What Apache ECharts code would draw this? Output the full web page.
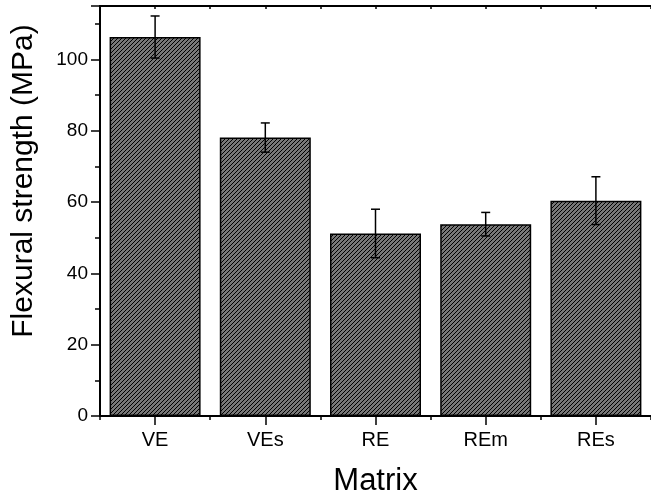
<!DOCTYPE html>
<html>
<head>
<meta charset="utf-8">
<script src="https://cdn.jsdelivr.net/npm/echarts@6/dist/echarts.min.js"></script>
<style>
html,body{margin:0;padding:0;background:#fff;overflow:hidden;width:651px;height:502px;}
#chart{width:651px;height:502px;overflow:hidden;}
</style>
</head>
<body>
<div id="chart"></div>
<script>
var categories = ['VE', 'VEs', 'RE', 'REm', 'REs'];
var strength = [106.3, 78.1, 51.2, 53.8, 60.4];
var stdev = [5.9, 4.1, 6.8, 3.3, 6.7];
var yTicks = [0, 20, 40, 60, 80, 100];
var xTitle = 'Matrix';
var yTitle = 'Flexural strength (MPa)';

// hatch pattern
var pc = document.createElement('canvas');
pc.width = 4; pc.height = 4;
var pctx = pc.getContext('2d');
var img = pctx.createImageData(4, 4);
for (var py = 0; py < 4; py++) {
  for (var px = 0; px < 4; px++) {
    var k = (py * 4 + px) * 4;
    var s = (px + py) % 4;
    var v = (s === 3) ? 0 : 120;
    img.data[k] = v; img.data[k+1] = v; img.data[k+2] = v; img.data[k+3] = 255;
  }
}
pctx.putImageData(img, 0, 0);

var errData = categories.map(function (c, i) {
  return [i, strength[i] - stdev[i], strength[i] + stdev[i]];
});

var FONT = '"Liberation Sans", Arial, sans-serif';
var chart = echarts.init(document.getElementById('chart'), null, {renderer: 'canvas', width: 651, height: 502});
chart.setOption({
  animation: false,
  backgroundColor: '#ffffff',
  grid: {left: 100, top: 6, width: 558, height: 414, containLabel: false},
  xAxis: [{
    type: 'category',
    data: categories,
    position: 'bottom',
    name: xTitle,
    nameLocation: 'middle',
    nameGap: 50,
    nameTextStyle: {fontSize: 31, color: '#000', fontFamily: FONT},
    axisLine: {show: true, lineStyle: {color: '#000', width: 2}},
    axisTick: {show: true, alignWithLabel: true, inside: false, length: 9, lineStyle: {color: '#000', width: 1.5}},
    axisLabel: {fontSize: 20, color: '#000', fontFamily: FONT, margin: 14},
    splitLine: {show: false}
  }, {
    type: 'value', min: 0, max: 5, interval: 1, position: 'bottom',
    axisLine: {show: false},
    axisTick: {show: true, inside: false, length: 4, lineStyle: {color: '#000', width: 1.5}},
    axisLabel: {show: false}, splitLine: {show: false}
  }, {
    type: 'value', min: 0, max: 5, interval: 0.5, position: 'top',
    axisLine: {show: true, lineStyle: {color: '#000', width: 2}},
    axisTick: {show: true, inside: true, length: 3, lineStyle: {color: '#000', width: 1.5}},
    axisLabel: {show: false}, splitLine: {show: false}
  }],
  yAxis: [{
    type: 'value', min: 0, max: 115, interval: 20,
    axisLine: {show: true, onZero: false, lineStyle: {color: '#000', width: 2}},
    axisTick: {show: true, inside: false, length: 9, lineStyle: {color: '#000', width: 1.5}},
    minorTick: {show: true, splitNumber: 2, length: 5, lineStyle: {color: '#000', width: 1.5}},
    axisLabel: {fontSize: 19, color: '#000', fontFamily: FONT, margin: 12,
      formatter: function (v) { return yTicks.indexOf(v) >= 0 ? String(v) : ''; }},
    splitLine: {show: false}
  }, {
    type: 'value', min: 0, max: 115, interval: 20, position: 'right',
    axisLine: {show: true, lineStyle: {color: '#000', width: 2}},
    axisTick: {show: false}, axisLabel: {show: false}, splitLine: {show: false}
  }],
  graphic: [{
    type: 'text',
    x: 24, y: 181,
    rotation: Math.PI / 2,
    style: {text: yTitle, fontSize: 30, fontFamily: FONT, fill: '#000',
      align: 'center', verticalAlign: 'middle'}
  }],
  series: [{
    type: 'bar',
    xAxisIndex: 0, yAxisIndex: 0,
    data: strength,
    barWidth: 91,
    itemStyle: {
      color: {image: pc, repeat: 'repeat'},
      borderColor: '#000', borderWidth: 1.5
    }
  }, {
    type: 'custom',
    xAxisIndex: 0, yAxisIndex: 0,
    data: errData,
    encode: {x: 0, y: [1, 2]},
    z: 10,
    renderItem: function (params, api) {
      var lo = api.coord([api.value(0), api.value(1)]);
      var hi = api.coord([api.value(0), api.value(2)]);
      var hw = 4.5;
      var st = {stroke: '#000', lineWidth: 1.5};
      return {type: 'group', children: [
        {type: 'line', shape: {x1: hi[0], y1: hi[1], x2: lo[0], y2: lo[1]}, style: st},
        {type: 'line', shape: {x1: hi[0] - hw, y1: hi[1], x2: hi[0] + hw, y2: hi[1]}, style: st},
        {type: 'line', shape: {x1: lo[0] - hw, y1: lo[1], x2: lo[0] + hw, y2: lo[1]}, style: st}
      ]};
    }
  }]
});
</script>
</body>
</html>
